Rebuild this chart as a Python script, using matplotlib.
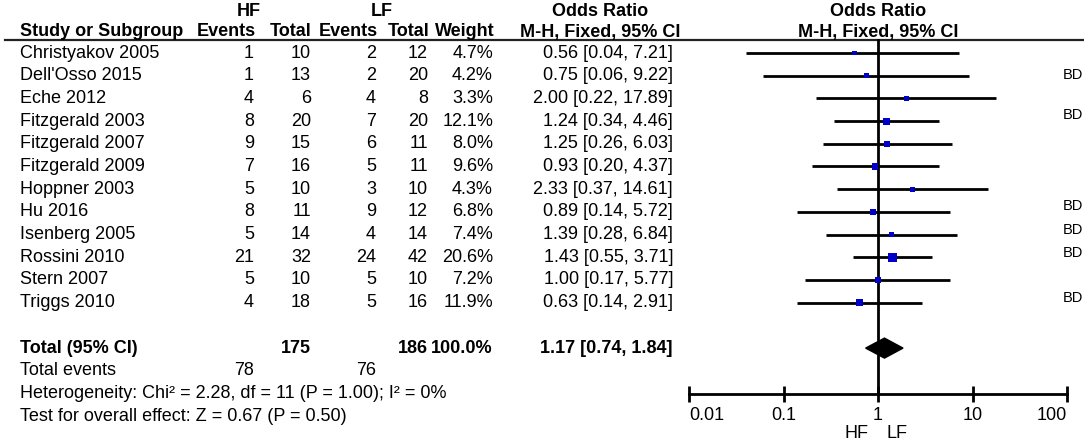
import numpy as np
import matplotlib.pyplot as plt

plt.rcParams['font.family'] = ['Liberation Sans', 'DejaVu Sans']

# data
studies = ["Christyakov 2005", "Dell'Osso 2015", "Eche 2012", "Fitzgerald 2003",
           "Fitzgerald 2007", "Fitzgerald 2009", "Hoppner 2003", "Hu 2016",
           "Isenberg 2005", "Rossini 2010", "Stern 2007", "Triggs 2010"]
hf_events = [1, 1, 4, 8, 9, 7, 5, 8, 5, 21, 5, 4]
hf_total = [10, 13, 6, 20, 15, 16, 10, 11, 14, 32, 10, 18]
lf_events = [2, 2, 4, 7, 6, 5, 3, 9, 4, 24, 5, 5]
lf_total = [12, 20, 8, 20, 11, 11, 10, 12, 14, 42, 10, 16]
weights = [4.7, 4.2, 3.3, 12.1, 8.0, 9.6, 4.3, 6.8, 7.4, 20.6, 7.2, 11.9]
odds = [0.56, 0.75, 2.00, 1.24, 1.25, 0.93, 2.33, 0.89, 1.39, 1.43, 1.00, 0.63]
ci_lo = [0.04, 0.06, 0.22, 0.34, 0.26, 0.20, 0.37, 0.14, 0.28, 0.55, 0.17, 0.14]
ci_hi = [7.21, 9.22, 17.89, 4.46, 6.03, 4.37, 14.61, 5.72, 6.84, 3.71, 5.77, 2.91]

total_hf, total_lf, total_weight = 175, 186, 100.0
events_hf, events_lf = 78, 76
pooled_or, pooled_lo, pooled_hi = 1.17, 0.74, 1.84
heterogeneity = "Heterogeneity: Chi² = 2.28, df = 11 (P = 1.00); I² = 0%"
overall = "Test for overall effect: Z = 0.67 (P = 0.50)"
tick_vals = [0.01, 0.1, 1, 10, 100]
tick_labels = ["0.01", "0.1", "1", "10", "100"]
bd_rows = [0.98, 2.75, 6.75, 7.8, 8.8, 10.8]

W, H = 1084, 444
row0, step = 53, 22.7
ylim = ((H - row0) / step, -row0 / step)


def prow(px):
    # pixel height -> row units
    return (px - row0) / step


fig = plt.figure(figsize=(W / 100, H / 100), dpi=100)
fig.patch.set_facecolor('white')

# text table, x in pixels, y in rows
ax_t = fig.add_axes([0, 0, 1, 1])
ax_t.set_xlim(0, W)
ax_t.set_ylim(*ylim)
ax_t.axis('off')

fs = 13
col_hfe, col_hft, col_lfe, col_lft, col_w, col_or = 254, 311, 376, 428, 493, 673
hdr1, hdr2, rule = prow(12), prow(32), prow(40)
bold = dict(va='center', fontsize=fs, fontweight='bold')
norm = dict(va='center', fontsize=fs)

ax_t.text(249, hdr1, "HF", ha='center', **bold)
ax_t.text(382, hdr1, "LF", ha='center', **bold)
ax_t.text(600, hdr1, "Odds Ratio", ha='center', **bold)
ax_t.text(878, hdr1, "Odds Ratio", ha='center', **bold)
ax_t.text(20, hdr2, "Study or Subgroup", ha='left', **bold)
for x, s in [(col_hfe + 2, "Events"), (col_hft + 1, "Total"), (col_lfe + 2, "Events"),
             (col_lft + 2, "Total"), (col_w + 2, "Weight")]:
    ax_t.text(x, hdr2, s, ha='right', **bold)
ax_t.text(600, hdr2, "M-H, Fixed, 95% CI", ha='center', **bold)
ax_t.text(878, hdr2, "M-H, Fixed, 95% CI", ha='center', **bold)
ax_t.plot([5, W], [rule, rule], color='#222222', lw=1.6)

for i, name in enumerate(studies):
    ax_t.text(20, i, name, ha='left', **norm)
    ax_t.text(col_hfe, i, str(hf_events[i]), ha='right', **norm)
    ax_t.text(col_hft, i, str(hf_total[i]), ha='right', **norm)
    ax_t.text(col_lfe, i, str(lf_events[i]), ha='right', **norm)
    ax_t.text(col_lft, i, str(lf_total[i]), ha='right', **norm)
    ax_t.text(col_w, i, f"{weights[i]:.1f}%", ha='right', **norm)
    ax_t.text(col_or, i, f"{odds[i]:.2f} [{ci_lo[i]:.2f}, {ci_hi[i]:.2f}]",
              ha='right', **norm)

r_tot = len(studies) + 1
ax_t.text(20, r_tot, "Total (95% CI)", ha='left', **bold)
ax_t.text(col_hft, r_tot, str(total_hf), ha='right', **bold)
ax_t.text(col_lft, r_tot, str(total_lf), ha='right', **bold)
ax_t.text(col_w, r_tot, f"{total_weight:.1f}%", ha='right', **bold)
ax_t.text(col_or, r_tot, f"{pooled_or:.2f} [{pooled_lo:.2f}, {pooled_hi:.2f}]",
          ha='right', **bold)
ax_t.text(20, r_tot + 1, "Total events", ha='left', **norm)
ax_t.text(col_hfe, r_tot + 1, str(events_hf), ha='right', **norm)
ax_t.text(col_lfe, r_tot + 1, str(events_lf), ha='right', **norm)
ax_t.text(20, r_tot + 2, heterogeneity, ha='left', **norm)
ax_t.text(20, r_tot + 3, overall, ha='left', **norm)

for r in bd_rows:
    ax_t.text(1063, r, "BD", ha='left', va='center', fontsize=10.5)

ax_t.text(868, prow(433), "HF", ha='right', **norm)
ax_t.text(887, prow(433), "LF", ha='left', **norm)

# forest plot
ax = fig.add_axes([689 / W, 0, 378 / W, 1])
ax.set_xscale('log')
ax.set_xlim(0.01, 100)
ax.set_ylim(*ylim)
ax.patch.set_alpha(0)
for side in ['top', 'left', 'right']:
    ax.spines[side].set_visible(False)
axis_row = prow(394)
ax.spines['bottom'].set_position(('data', axis_row))
ax.spines['bottom'].set_linewidth(2)
ax.set_yticks([])
ax.set_xticks(tick_vals)
ax.set_xticklabels(tick_labels, fontsize=fs)
ax.xaxis.set_minor_locator(plt.NullLocator())
ax.tick_params(axis='x', direction='inout', length=12, width=2, pad=3)
xt = ax.get_xticklabels()
xt[0].set_ha('left')
xt[-1].set_ha('right')

rows = np.arange(len(studies))
ax.plot([1, 1], [rule, axis_row], color='black', lw=2, zorder=2)
ax.hlines(rows, ci_lo, ci_hi, color='black', lw=2, zorder=3)
ax.scatter(odds, rows, s=np.array(weights) * 1.8 + 4, marker='s', color='#0000c8',
           linewidths=0, zorder=4)
dh = 0.44
ax.fill([pooled_lo, pooled_or, pooled_hi, pooled_or],
        [r_tot, r_tot - dh, r_tot, r_tot + dh], color='black', zorder=4)

fig.savefig('out.png', dpi=100)
